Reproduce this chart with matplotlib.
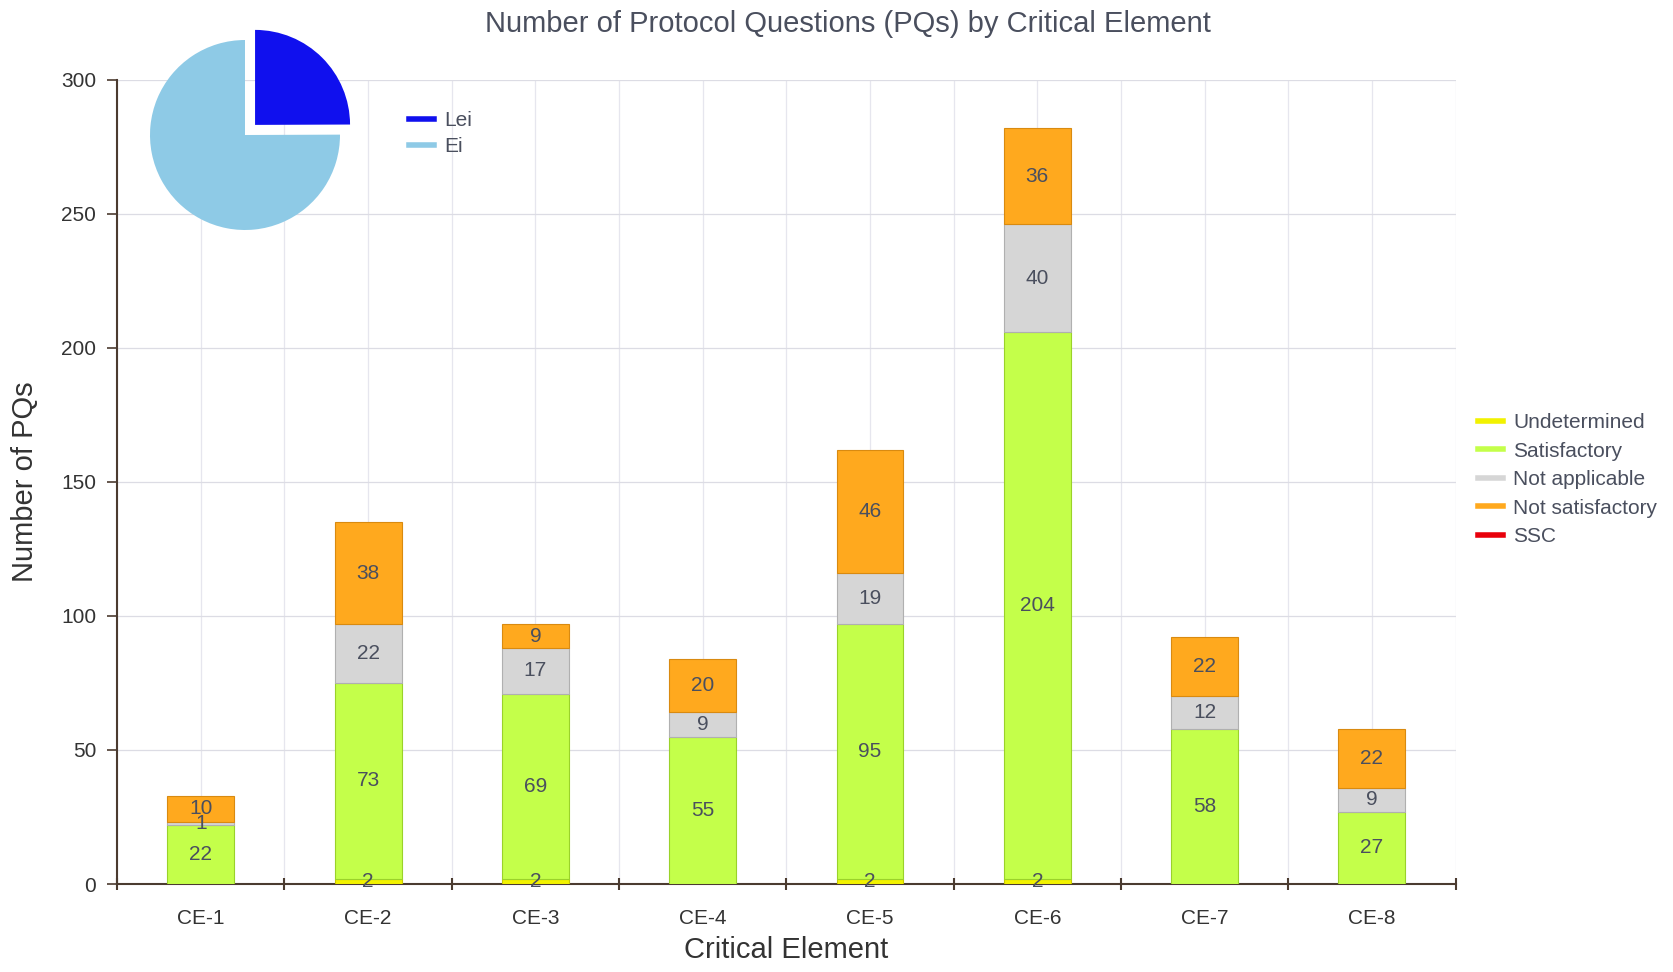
import matplotlib.pyplot as plt
import numpy as np
from matplotlib.lines import Line2D

plt.rcParams['font.family'] = ['Liberation Sans Narrow', 'Liberation Sans', 'DejaVu Sans']

categories = ["CE-1", "CE-2", "CE-3", "CE-4", "CE-5", "CE-6", "CE-7", "CE-8"]
undetermined = [0, 2, 2, 0, 2, 2, 0, 0]
satisfactory = [22, 73, 69, 55, 95, 204, 58, 27]
not_applicable = [1, 22, 17, 9, 19, 40, 12, 9]
not_satisfactory = [10, 38, 9, 20, 46, 36, 22, 22]
ssc = [0, 0, 0, 0, 0, 0, 0, 0]

pie_labels = ["Lei", "Ei"]
pie_values = [203, 611]

series = [
    ("Undetermined", undetermined, "#f2f200", "#c8c800"),
    ("Satisfactory", satisfactory, "#c4ff4a", "#9ad22a"),
    ("Not applicable", not_applicable, "#d6d6d6", "#b0b0b0"),
    ("Not satisfactory", not_satisfactory, "#ffa91e", "#d98a10"),
    ("SSC", ssc, "#e8000b", "#b00000"),
]

text_col = "#4a4f5e"
axis_col = "#4b3b30"

fig = plt.figure(figsize=(16.73, 9.72), dpi=100)
ax = fig.add_axes([0.070, 0.0905, 0.800, 0.8275])

x = np.arange(len(categories))
bottom = np.zeros(len(categories))
handles = []
for name, vals, col, edge in series:
    vals = np.array(vals, dtype=float)
    handles.append(Line2D([0], [0], color=col, linewidth=4))
    if not vals.any():
        continue
    ax.bar(x, vals, width=0.4, bottom=bottom, color=col, edgecolor=edge, linewidth=0.8, zorder=3)
    for xi, b, v in zip(x, bottom, vals):
        if v > 0:
            ax.text(xi, b + v / 2, f"{int(v)}", ha="center", va="center",
                    fontsize=15, color=text_col, zorder=4)
    bottom += vals

ax.set_xlim(-0.5, len(categories) - 0.5)
ax.set_ylim(0, 300)
ax.set_yticks(np.arange(0, 301, 50))
ax.set_xticks(x)
ax.set_xticklabels(categories)
ax.set_xticks(np.arange(-0.5, len(categories), 1), minor=True)
ax.tick_params(axis="x", which="major", length=0, labelsize=15, colors="#333333", pad=18)
ax.tick_params(axis="x", which="minor", length=8, direction="inout", color=axis_col, width=1.5)
ax.tick_params(axis="y", length=7, color=axis_col, width=1.2, labelsize=15, labelcolor="#333333", pad=8)

for gx in np.arange(-0.5, len(categories), 0.5):
    ax.axvline(gx, color="#e6e6ee", linewidth=0.9, zorder=0)
ax.yaxis.grid(True, color="#dcdce4", linewidth=0.9, zorder=0)
ax.set_axisbelow(True)

for s in ["top", "right"]:
    ax.spines[s].set_visible(False)
for s in ["left", "bottom"]:
    ax.spines[s].set_color(axis_col)
    ax.spines[s].set_linewidth(1.5)

ax.set_xlabel("Critical Element", fontsize=21, color="#333333", labelpad=6)
ax.set_ylabel("Number of PQs", fontsize=21, color="#333333", labelpad=16)
fig.text(0.507, 0.975, "Number of Protocol Questions (PQs) by Critical Element",
         ha="center", va="center", fontsize=21, color=text_col)

fig.legend(handles, [s[0] for s in series], loc="upper left", bbox_to_anchor=(0.872, 0.594),
           frameon=False, fontsize=15, handlelength=1.2, handletextpad=0.5,
           labelspacing=0.45, labelcolor=text_col)

# inset pie
cx, cy, r = 245 / 1673, 1 - 135 / 972, 95
w, h = 2.4 * r / 1673, 2.4 * r / 972
pax = fig.add_axes([cx - w / 2, cy - h / 2, w, h])
pax.pie(pie_values, colors=["#1010ee", "#8ecae6"], startangle=90, counterclock=False,
        explode=[0.15, 0], radius=1.0,
        wedgeprops=dict(edgecolor="none"))
pax.set_xlim(-1.2, 1.2)
pax.set_ylim(-1.2, 1.2)
pax.set_aspect("equal")
pax.axis("off")

pie_handles = [Line2D([0], [0], color="#1010ee", linewidth=4),
               Line2D([0], [0], color="#8ecae6", linewidth=4)]
fig.legend(pie_handles, pie_labels, loc="upper left", bbox_to_anchor=(0.233, 0.905),
           frameon=False, fontsize=15, handlelength=1.2, handletextpad=0.5,
           labelspacing=0.35, labelcolor=text_col)

fig.savefig("out.png", dpi=100)
